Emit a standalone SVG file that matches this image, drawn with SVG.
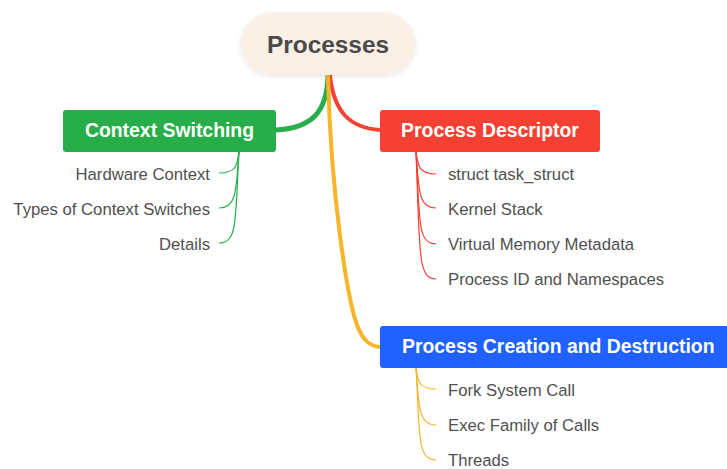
<svg xmlns="http://www.w3.org/2000/svg" width="727" height="469" viewBox="0 0 727 469">
<defs>
<filter id="sh" x="-20%" y="-30%" width="140%" height="160%">
<feDropShadow dx="0" dy="1" stdDeviation="2" flood-color="#000" flood-opacity="0.12"/>
</filter>
</defs>
<style>
.main{fill:none;stroke-linecap:round}
.sub{fill:none;stroke-width:1.2}
.ttl{font-family:"Liberation Sans",Arial,sans-serif;font-weight:bold;font-size:19.4px;fill:#fff}
.leaf{font-family:"Liberation Sans",Arial,sans-serif;font-size:16.7px;fill:#505050}
</style>
<rect width="727" height="469" fill="#fff"/>
<g id="connectors">
<path class="main" d="M328,76 C327,112 312,128 276,130" stroke="#27ae4a" stroke-width="5"/>
<path class="main" d="M330,76 C334,112 350,128 380,130" stroke="#f54133" stroke-width="4"/>
<path class="main" d="M328,76 C331,200 348,300 357,325 C363,341 370,346 380,347" stroke="#f7b52a" stroke-width="4"/>
<path class="sub" stroke="#27ae4a" d="M239,152 C237,166 236,173 219,173"/>
<path class="sub" stroke="#27ae4a" d="M239,152 C236,190 237,208 219,208"/>
<path class="sub" stroke="#27ae4a" d="M239,152 C235,220 238,243 219,243"/>
<path class="sub" stroke="#f54133" d="M416,152 C418,166 419,174 436,174"/>
<path class="sub" stroke="#f54133" d="M416,152 C419,190 418,208 436,208"/>
<path class="sub" stroke="#f54133" d="M416,152 C420,220 417,244 436,244"/>
<path class="sub" stroke="#f54133" d="M416,152 C420,250 417,279 436,279"/>
<path class="sub" stroke="#f7b52a" d="M416,368 C418,382 419,389 436,389"/>
<path class="sub" stroke="#f7b52a" d="M416,368 C419,406 418,425 436,425"/>
<path class="sub" stroke="#f7b52a" d="M416,368 C420,436 417,460 436,460"/>
</g>
<g id="root">
<rect x="241" y="13" width="174" height="62" rx="31" fill="#faf0e6" filter="url(#sh)"/>
<text x="328" y="53" text-anchor="middle" font-family="Liberation Sans,Arial,sans-serif" font-weight="bold" font-size="24.4" fill="#4a4a4a">Processes</text>
</g>
<g id="context-switching">
<rect x="63" y="110" width="213" height="42" rx="3" fill="#27ae4a"/>
<text class="ttl" x="169.5" y="137" text-anchor="middle">Context Switching</text>
</g>
<g id="cs-hardware"><text class="leaf" x="210" y="180" text-anchor="end">Hardware Context</text></g>
<g id="cs-types"><text class="leaf" x="210" y="215" text-anchor="end">Types of Context Switches</text></g>
<g id="cs-details"><text class="leaf" x="210" y="250" text-anchor="end">Details</text></g>
<g id="process-descriptor">
<rect x="380" y="110" width="220" height="42" rx="3" fill="#f54133"/>
<text class="ttl" x="490" y="137" text-anchor="middle">Process Descriptor</text>
</g>
<g id="pd-task"><text class="leaf" x="448" y="180">struct task_struct</text></g>
<g id="pd-kstack"><text class="leaf" x="448" y="215">Kernel Stack</text></g>
<g id="pd-vm"><text class="leaf" x="448" y="250">Virtual Memory Metadata</text></g>
<g id="pd-pid"><text class="leaf" x="448" y="285">Process ID and Namespaces</text></g>
<g id="process-creation">
<rect x="380" y="326" width="352" height="42" rx="3" fill="#2061ff"/>
<text class="ttl" x="402" y="353">Process Creation and Destruction</text>
</g>
<g id="pc-fork"><text class="leaf" x="448" y="396">Fork System Call</text></g>
<g id="pc-exec"><text class="leaf" x="448" y="431">Exec Family of Calls</text></g>
<g id="pc-threads"><text class="leaf" x="448" y="466">Threads</text></g>
</svg>
